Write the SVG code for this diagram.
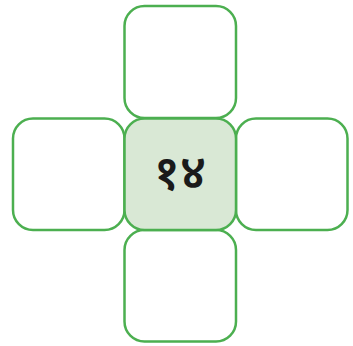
<svg xmlns="http://www.w3.org/2000/svg" width="353" height="346" viewBox="0 0 353 346">
<style>
.box{fill:#ffffff;stroke:#4caf50;stroke-width:2.5}
.ctr{fill:#d9e8d5}
.lbl{font-family:"Noto Sans","DejaVu Sans",sans-serif;font-size:48px;font-weight:600;fill:#1a1a1a;text-anchor:middle}
</style>
<g id="top"><rect class="box" x="124.5" y="6" width="111.5" height="112" rx="20"/></g>
<g id="left"><rect class="box" x="13" y="118.5" width="111.5" height="111.5" rx="20"/></g>
<g id="right"><rect class="box" x="236" y="118.5" width="111.5" height="111.5" rx="20"/></g>
<g id="bottom"><rect class="box" x="124.5" y="230" width="111.5" height="111.5" rx="20"/></g>
<g id="center"><rect class="box ctr" x="124.5" y="118.5" width="111.5" height="111.5" rx="20"/><text class="lbl" x="180" y="189">१४</text></g>
<g id="connectors"/>
</svg>
